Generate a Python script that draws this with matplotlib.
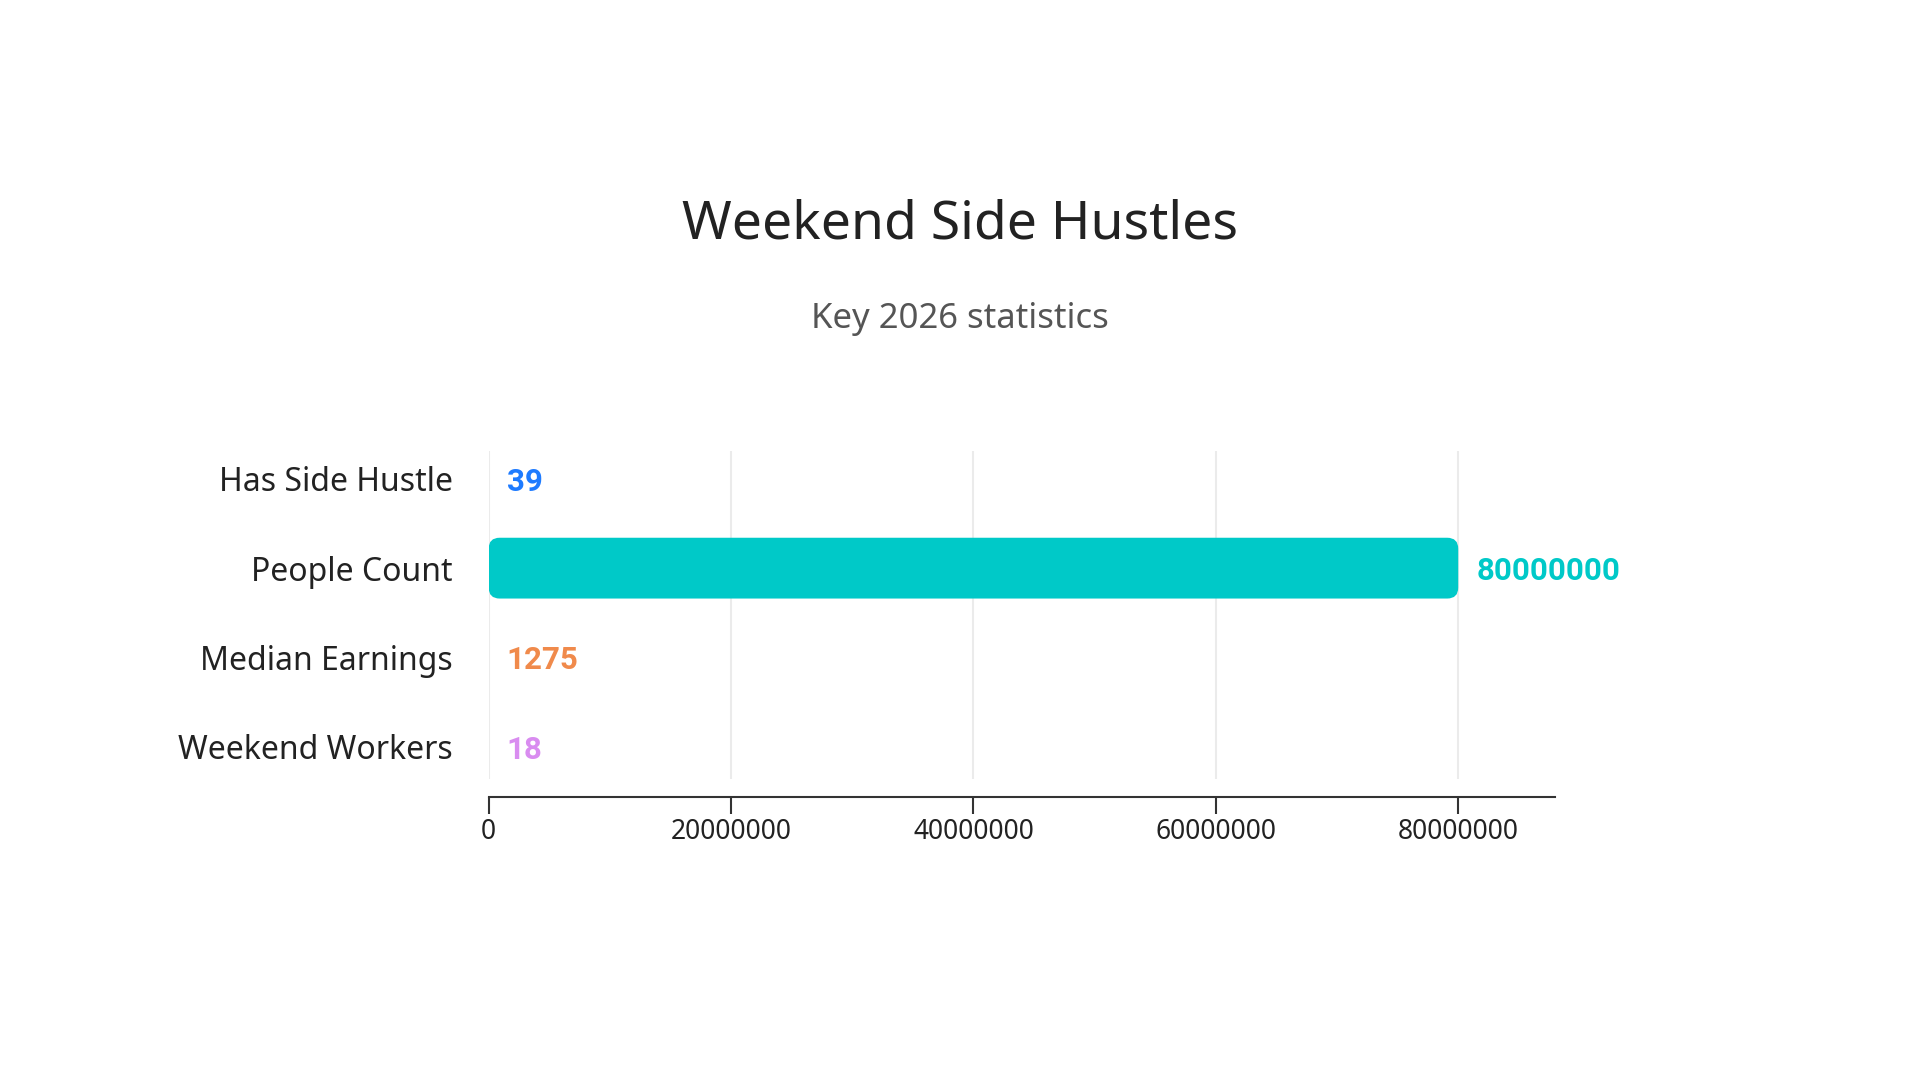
import matplotlib
matplotlib.use("Agg")
import matplotlib.pyplot as plt
from matplotlib.patches import FancyBboxPatch

plt.rcParams['font.family'] = ['Noto Sans', 'DejaVu Sans']

# data
categories = ["Has Side Hustle", "People Count", "Median Earnings", "Weekend Workers"]
values = [39, 80000000, 1275, 18]
bar_colors = ["#1E7BFF", "#00C9C8", "#F08A4B", "#D98CF0"]
xticks = [0, 20000000, 40000000, 60000000, 80000000]
title = "Weekend Side Hustles"
subtitle = "Key 2026 statistics"

fig = plt.figure(figsize=(19.2, 10.8), dpi=100)
fig.patch.set_facecolor("white")

ax = fig.add_axes([0.2545, 0.2789, 0.810 - 0.2545, 0.5828 - 0.2789])
for s in ["top", "right", "left"]:
    ax.spines[s].set_visible(False)
ax.spines["bottom"].set_position(("outward", 13))
ax.spines["bottom"].set_color("#333333")
ax.spines["bottom"].set_linewidth(1.5)

ax.set_xlim(0, 88000000)
ax.set_ylim(3.356, -0.315)

# gridlines
for t in xticks:
    ax.axvline(t, color="#EBEBEB", linewidth=1.5, zorder=0)

ypos = list(range(len(categories)))
bars = ax.barh(ypos, values, height=0.68, color=bar_colors)

# swap the plain rectangles for rounded ones
fig.canvas.draw()
px_x = ax.transData.transform((1, 0))[0] - ax.transData.transform((0, 0))[0]
px_y = abs(ax.transData.transform((0, 1))[1] - ax.transData.transform((0, 0))[1])
radius_px = 11
for b, c in zip(bars, bar_colors):
    x0, y0 = b.get_x(), b.get_y()
    w, h = b.get_width(), b.get_height()
    b.set_visible(False)
    r = min(radius_px / px_x, w / 2.0)
    if w <= 0:
        continue
    patch = FancyBboxPatch((x0, y0), w, h,
                           boxstyle=f"round,pad=0,rounding_size={r}",
                           mutation_aspect=px_x / px_y,
                           facecolor=c, edgecolor="none", zorder=2)
    ax.add_patch(patch)

# value labels (bold)
for y, v, c in zip(ypos, values, bar_colors):
    ax.annotate(f"{v}", (v, y), xytext=(13, -2), textcoords="offset points",
                ha="left", va="center", color=c, fontsize=22.5, fontweight="bold",
                family=["Roboto", "DejaVu Sans"])

ax.set_yticks(ypos)
ax.set_yticklabels(categories)
ax.tick_params(axis="y", length=0, pad=26, labelsize=23, labelcolor="#222222")

ax.set_xticks(xticks)
ax.set_xticklabels([str(t) for t in xticks])
ax.tick_params(axis="x", length=12, width=1.5, color="#333333", pad=3,
               labelsize=19, labelcolor="#222222")

fig.text(0.5, 0.792, title, ha="center", va="center", fontsize=38.5, color="#222222")
fig.text(0.5, 0.705, subtitle, ha="center", va="center", fontsize=25, color="#555555")

plt.savefig("out.png", dpi=100, facecolor="white")
